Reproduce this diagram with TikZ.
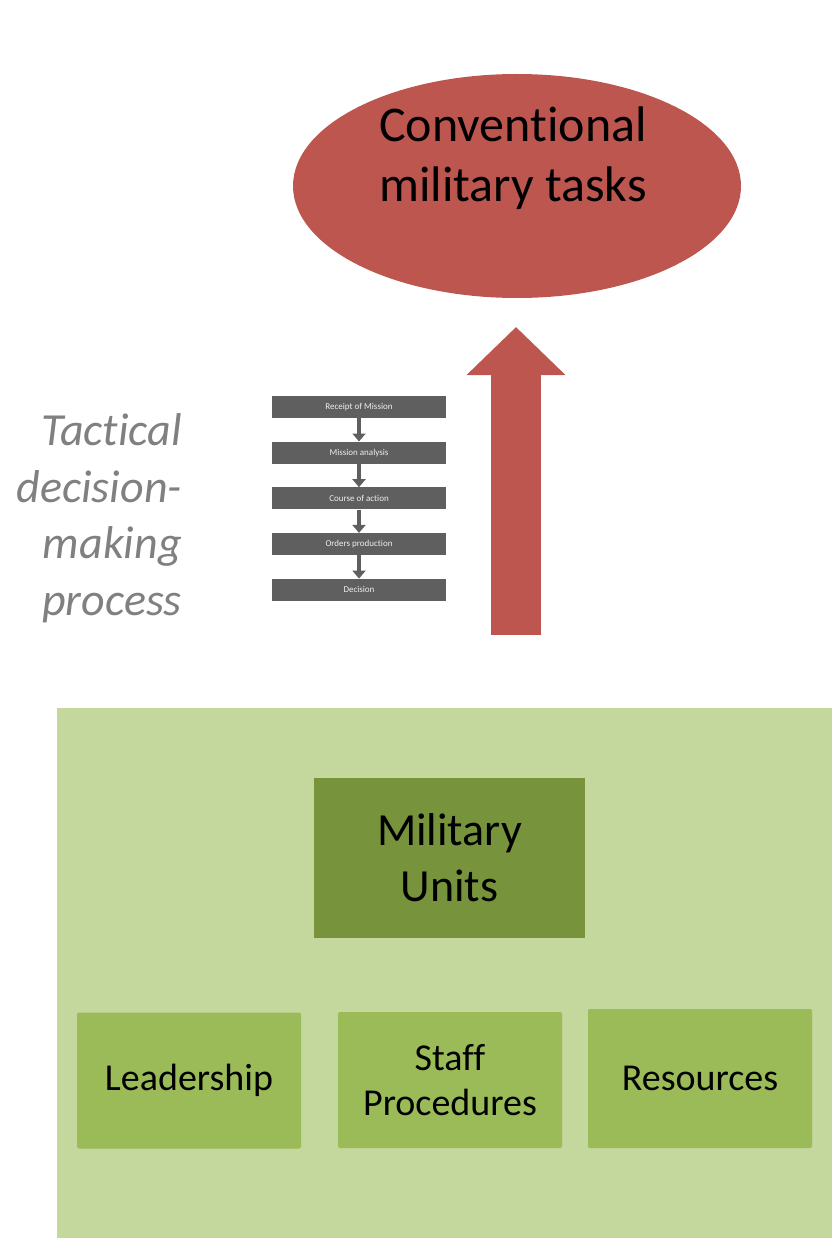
\documentclass[tikz,border=0pt]{standalone}
\usepackage{fontspec}
\setmainfont{Carlito}[Ligatures=NoCommon]
\usepackage{xcolor}
\definecolor{brick}{HTML}{BE5650}
\definecolor{stepGray}{HTML}{5F5F5F}
\definecolor{labelGray}{HTML}{808080}
\definecolor{sage}{HTML}{C4D79C}
\definecolor{olive}{HTML}{77933C}
\definecolor{leaf}{HTML}{9BBB59}
\usepackage{tikz}
\usetikzlibrary{arrows.meta, positioning, shapes.geometric}

\begin{document}
\begin{tikzpicture}[
  x=1pt, y=-1pt,
  every node/.style={align=center},
  goal/.style={ellipse, fill=brick, draw=none, minimum width=448pt, minimum height=224pt},
  stepBox/.style={rectangle, fill=stepGray, text=white!90!stepGray, font=\fontsize{9}{10}\selectfont, minimum width=174pt, minimum height=22pt, inner sep=0pt},
  stepArrow/.style={-{Triangle[width=13pt, length=8pt]}, line width=4pt, stepGray},
  bigArrow/.style={-{Triangle[width=96pt, length=48pt]}, line width=50pt, brick},
  unitBox/.style={rectangle, fill=olive, text=black, minimum width=271pt, minimum height=160pt, font=\fontsize{46}{56}\selectfont},
  partBox/.style={rectangle, rounded corners=2pt, fill=leaf, text=black, minimum width=224pt, minimum height=136pt, font=\fontsize{38}{45}\selectfont},
  sideLabel/.style={font=\fontsize{46}{56.5}\selectfont\itshape, text=labelGray, align=right, inner sep=0pt},
]
\useasboundingbox (0,0) rectangle (832,1238);

% ------------------- Top: goal -------------------
\node[goal, label={[font=\fontsize{50}{60}\selectfont, yshift=28pt, xshift=-4pt]center:Conventional\\military tasks}] (tasks) at (517,186) {};

% ------------------- Middle: decision process -------------------
\node[stepBox] (receipt) at (359,407) {Receipt of Mission};
\node[stepBox, below=23.3pt of receipt] (analysis) {Mission analysis};
\node[stepBox, below=23.3pt of analysis] (course) {Course of action};
\node[stepBox, below=23.3pt of course] (orders) {Orders production};
\node[stepBox, below=23.3pt of orders] (decision) {Decision};

\foreach \a/\b in {receipt/analysis, analysis/course, course/orders, orders/decision}
  \draw[stepArrow] (\a.south) -- (\b.north);

\node[sideLabel, anchor=east] (tdmp) at (182,518) {Tactical\\decision-\\making\\process};

% Big arrow up to the goal
\coordinate (arrowFoot) at (516,635);
\coordinate (arrowTip) at (516,327);
\draw[bigArrow] (arrowFoot) -- (arrowTip);

% ------------------- Bottom: units -------------------
\node[rectangle, fill=sage, minimum width=775pt, minimum height=530pt, inner sep=0pt, anchor=north west] (base) at (57,708) {};

\node[unitBox] (units) at (449.5,858) {Military\\Units};
\node[partBox] (leader) at (189,1080.5) {Leadership};
\node[partBox] (staff) at (450,1080) {Staff\\Procedures};
\node[partBox, minimum height=139pt] (resources) at (700,1078.5) {Resources};

\end{tikzpicture}
\end{document}
